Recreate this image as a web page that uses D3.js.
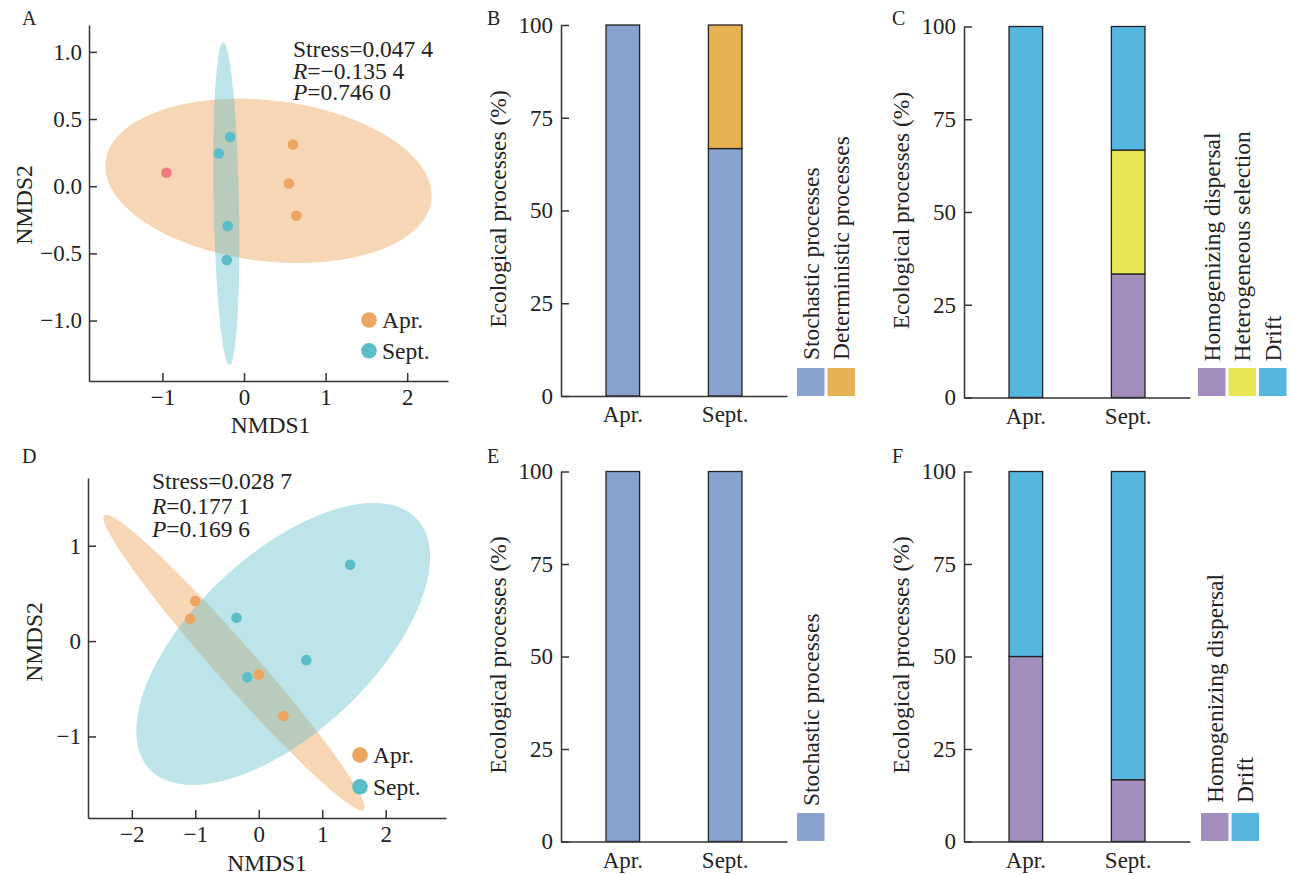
<!DOCTYPE html>
<html>
<head>
<meta charset="utf-8">
<script src="https://cdn.jsdelivr.net/npm/d3@7"></script>
<style>
  body { margin: 0; background: #fff; }
  svg { display: block; font-family: "Liberation Serif", "Times New Roman", serif; }
  .axis path, .axis line { stroke: #333; stroke-width: 1.5; }
  .axis text { font-size: 23px; fill: #222; font-family: "Liberation Serif", "Times New Roman", serif; }
  .lbl { font-size: 23.5px; fill: #222; font-family: "Liberation Serif", "Times New Roman", serif; }
  .letter { font-size: 20px; fill: #222; font-family: "Liberation Serif", "Times New Roman", serif; }
</style>
</head>
<body>
<svg id="svg" width="1292" height="875"></svg>
<script>
const months = ['Apr.', 'Sept.'];

const nmdsA = [
  { group: 'Other', x: -0.95, y: 0.10 },
  { group: 'Sept.', x: -0.17, y: 0.366 },
  { group: 'Sept.', x: -0.31, y: 0.244 },
  { group: 'Sept.', x: -0.20, y: -0.296 },
  { group: 'Sept.', x: -0.21, y: -0.55 },
  { group: 'Apr.', x: 0.60, y: 0.31 },
  { group: 'Apr.', x: 0.55, y: 0.02 },
  { group: 'Apr.', x: 0.64, y: -0.22 },
];
const nmdsD = [
  { group: 'Apr.', x: -1.00, y: 0.42 },
  { group: 'Apr.', x: -1.08, y: 0.233 },
  { group: 'Apr.', x: 0.00, y: -0.35 },
  { group: 'Apr.', x: 0.39, y: -0.785 },
  { group: 'Sept.', x: -0.35, y: 0.244 },
  { group: 'Sept.', x: 1.44, y: 0.80 },
  { group: 'Sept.', x: 0.75, y: -0.20 },
  { group: 'Sept.', x: -0.18, y: -0.38 },
];

// group ellipses in data units: centre plus two conjugate half-axis vectors
const ellipsesA = [
  { group: 'Apr.', cx: 0.30, cy: 0.04, ux: 1.997, uy: -0.145, vx: -0.116, vy: -0.594 },
  { group: 'Sept.', cx: -0.217, cy: -0.13, ux: 0.038, uy: -1.2, vx: -0.155, vy: -0.002 },
];
const ellipsesD = [
  { group: 'Apr.', cx: -0.39, cy: -0.225, ux: 2.045, uy: -1.545, vx: 0.237, vy: 0.138 },
  { group: 'Sept.', cx: 0.385, cy: -0.03, ux: 2.105, uy: 1.313, vx: 0.962, vy: -0.680 },
];

const statsA = ['Stress=0.047 4', '−0.135 4', '0.746 0'];
const statsD = ['Stress=0.028 7', '0.177 1', '0.169 6'];

const ticksA_x = [-1, 0, 1, 2];
const ticksA_y = [-1, -0.5, 0, 0.5, 1];
const ticksD_x = [-2, -1, 0, 1, 2];
const ticksD_y = [-1, 0, 1];
const ticksPct = [0, 25, 50, 75, 100];

// relative contribution of assembly processes (%), per month [Apr., Sept.]
const procB = ['Stochastic processes', 'Deterministic processes'];
const valB = { 'Stochastic processes': [100, 66.7], 'Deterministic processes': [0, 33.3] };
const procC = ['Homogenizing dispersal', 'Heterogeneous selection', 'Drift'];
const valC = { 'Homogenizing dispersal': [0, 33.3], 'Heterogeneous selection': [0, 33.4], 'Drift': [100, 33.3] };
const procE = ['Stochastic processes'];
const valE = { 'Stochastic processes': [100, 100] };
const procF = ['Homogenizing dispersal', 'Drift'];
const valF = { 'Homogenizing dispersal': [50, 16.7], 'Drift': [50, 83.3] };

const pointColor = { 'Apr.': '#EDA460', 'Sept.': '#5BBDC7', 'Other': '#F07B7E' };
const fillColor = { 'Apr.': '#EDA35E', 'Sept.': '#5BBCC6' };
const fillOpacity = { 'Apr.': 0.45, 'Sept.': 0.4 };
const procColor = {
  'Stochastic processes': '#87A2CD',
  'Deterministic processes': '#E6B151',
  'Homogenizing dispersal': '#A38DBD',
  'Heterogeneous selection': '#E9E654',
  'Drift': '#55B7E0',
};

const svg = d3.select('#svg');

function letter(txt, x, y) {
  svg.append('text').attr('class', 'letter').attr('x', x).attr('y', y).text(txt);
}

function drawNmds(cfg) {
  const g = svg.append('g').attr('transform', 'translate(' + cfg.left + ',' + cfg.top + ')');
  const x = d3.scaleLinear().domain(cfg.xDomain).range([0, cfg.w]);
  const y = d3.scaleLinear().domain(cfg.yDomain).range([cfg.h, 0]);

  const line = d3.line()
    .x(d => x(d[0]))
    .y(d => y(d[1]))
    .curve(d3.curveLinearClosed);

  g.selectAll('path.ell')
    .data(cfg.ellipses)
    .join('path')
    .attr('class', 'ell')
    .attr('fill', d => fillColor[d.group])
    .attr('fill-opacity', d => fillOpacity[d.group])
    .attr('d', e => line(d3.range(0, 360, 3).map(a => {
      const t = a * Math.PI / 180;
      return [e.cx + e.ux * Math.cos(t) + e.vx * Math.sin(t),
              e.cy + e.uy * Math.cos(t) + e.vy * Math.sin(t)];
    })));

  g.selectAll('circle.pt')
    .data(cfg.points)
    .join('circle')
    .attr('class', 'pt')
    .attr('cx', d => x(d.x))
    .attr('cy', d => y(d.y))
    .attr('r', 5.3)
    .attr('fill', d => pointColor[d.group]);

  g.append('g')
    .attr('class', 'axis')
    .attr('transform', 'translate(0,' + cfg.h + ')')
    .call(d3.axisBottom(x).tickValues(cfg.xTicks).tickFormat(d3.format('d'))
      .tickSizeInner(-8).tickSizeOuter(0).tickPadding(8));

  g.append('g')
    .attr('class', 'axis')
    .call(d3.axisLeft(y).tickValues(cfg.yTicks).tickFormat(d3.format(cfg.yFormat))
      .tickSizeInner(-8).tickSizeOuter(0).tickPadding(7));

  g.append('text').attr('class', 'lbl')
    .attr('x', cfg.w / 2 + cfg.xLabelDx).attr('y', cfg.h + cfg.xLabelDy)
    .attr('text-anchor', 'middle').text('NMDS1');
  g.append('text').attr('class', 'lbl')
    .attr('transform', 'translate(' + cfg.yLabelDx + ',' + (cfg.h / 2 + cfg.yLabelDy) + ') rotate(-90)')
    .attr('text-anchor', 'middle').text('NMDS2');

  // stats, one text per line
  g.append('text').attr('class', 'lbl')
    .attr('x', cfg.statX).attr('y', cfg.statY[0]).text(cfg.stats[0]);
  const r = g.append('text').attr('class', 'lbl').attr('x', cfg.statX).attr('y', cfg.statY[1]);
  r.append('tspan').attr('font-style', 'italic').text('R');
  r.append('tspan').text('=' + cfg.stats[1]);
  const p = g.append('text').attr('class', 'lbl').attr('x', cfg.statX).attr('y', cfg.statY[2]);
  p.append('tspan').attr('font-style', 'italic').text('P');
  p.append('tspan').text('=' + cfg.stats[2]);

  // legend
  const lg = g.append('g').attr('transform', 'translate(' + cfg.legX + ',' + cfg.legY + ')');
  months.forEach((m, i) => {
    lg.append('circle').attr('cx', 0).attr('cy', i * cfg.legStep).attr('r', 7.8).attr('fill', pointColor[m]);
    lg.append('text').attr('class', 'lbl').attr('x', 13).attr('y', i * cfg.legStep + 8).text(m);
  });
}

function drawBars(cfg) {
  const g = svg.append('g').attr('transform', 'translate(' + cfg.left + ',' + cfg.top + ')');
  const x = d3.scaleBand().domain(months).range([0, cfg.w]).paddingInner(0.672).paddingOuter(0.44);
  const y = d3.scaleLinear().domain([0, 100]).range([cfg.h, 0]);

  const table = months.map((m, i) => {
    const row = { month: m };
    cfg.keys.forEach(k => { row[k] = cfg.values[k][i]; });
    return row;
  });
  const series = d3.stack().keys(cfg.keys)(table);

  g.selectAll('g.layer')
    .data(series)
    .join('g')
    .attr('class', 'layer')
    .attr('fill', d => procColor[d.key])
    .selectAll('rect')
    .data(d => d.filter(s => s[1] > s[0]))
    .join('rect')
    .attr('x', d => x(d.data.month))
    .attr('y', d => y(d[1]))
    .attr('width', x.bandwidth())
    .attr('height', d => y(d[0]) - y(d[1]))
    .attr('stroke', '#222')
    .attr('stroke-width', 1.3);

  g.append('g')
    .attr('class', 'axis')
    .attr('transform', 'translate(0,' + cfg.h + ')')
    .call(d3.axisBottom(x).tickSize(0).tickPadding(10))
    .call(a => a.selectAll('.tick line').remove());

  g.append('g')
    .attr('class', 'axis')
    .call(d3.axisLeft(y).tickValues(ticksPct).tickSizeInner(-8).tickSizeOuter(0).tickPadding(8));

  g.append('text').attr('class', 'lbl')
    .attr('transform', 'translate(-55.5,' + (cfg.h / 2 - 1.5) + ') rotate(-90)')
    .attr('text-anchor', 'middle')
    .text('Ecological processes (%)');

  // legend: colour squares with rotated labels above them
  const lg = svg.append('g').attr('transform', 'translate(' + cfg.legX + ',' + cfg.legY + ')');
  cfg.keys.forEach((k, i) => {
    lg.append('rect')
      .attr('x', i * 30.5).attr('y', 0)
      .attr('width', 27.5).attr('height', 28)
      .attr('fill', procColor[k]);
    lg.append('text').attr('class', 'lbl')
      .attr('transform', 'translate(' + (i * 30.5 + 21.5) + ',' + cfg.legTextDy + ') rotate(-90)')
      .text(k);
  });
}

letter('A', 22, 25);
letter('B', 487, 25);
letter('C', 892, 25);
letter('D', 22, 463);
letter('E', 487, 463);
letter('F', 892, 463);

drawNmds({
  left: 89, top: 25, w: 359, h: 356,
  xDomain: [-1.9, 2.5], yDomain: [-1.45, 1.2],
  xTicks: ticksA_x, yTicks: ticksA_y, yFormat: '.1f',
  points: nmdsA, ellipses: ellipsesA,
  stats: statsA, statX: 204, statY: [32, 54, 75],
  legX: 280, legY: 295, legStep: 30.7,
  xLabelDx: 2, xLabelDy: 52, yLabelDx: -57, yLabelDy: 2,
});

drawNmds({
  left: 88, top: 478, w: 358, h: 340,
  xDomain: [-2.69, 2.95], yDomain: [-1.855, 1.71],
  xTicks: ticksD_x, yTicks: ticksD_y, yFormat: 'd',
  points: nmdsD, ellipses: ellipsesD,
  stats: statsD, statX: 64, statY: [11, 36, 59],
  legX: 272, legY: 277, legStep: 31.7,
  xLabelDx: 0, xLabelDy: 53, yLabelDx: -46, yLabelDy: -6,
});

drawBars({ left: 561, top: 25, w: 226, h: 371, keys: procB, values: valB, legX: 797, legY: 368, legTextDy: -8 });
drawBars({ left: 964, top: 26.5, w: 226, h: 371, keys: procC, values: valC, legX: 1198, legY: 368, legTextDy: -6.5 });
drawBars({ left: 561, top: 471.5, w: 226, h: 370, keys: procE, values: valE, legX: 797, legY: 813, legTextDy: -7 });
drawBars({ left: 964, top: 471.5, w: 226, h: 370, keys: procF, values: valF, legX: 1201, legY: 813, legTextDy: -10 });
</script>
</body>
</html>
